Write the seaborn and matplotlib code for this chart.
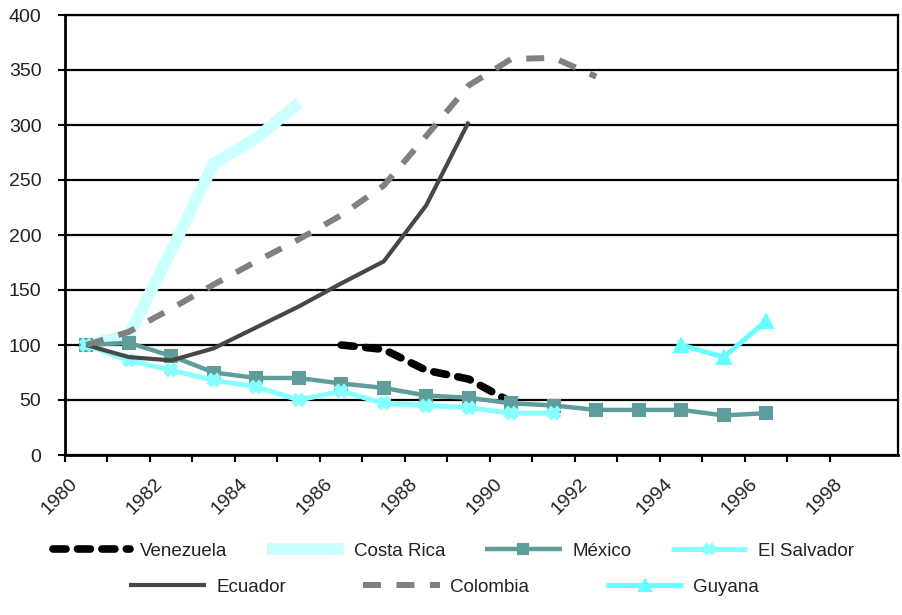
import numpy as np
import pandas as pd
import matplotlib
matplotlib.use("Agg")
import matplotlib.pyplot as plt
import matplotlib.transforms as mtransforms
import seaborn as sns

# ---- data (index values) ----
first_year = 1980
venezuela_start = 1986
venezuela = [100, 96, 77, 69, 48]
costa_rica_start = 1980
costa_rica = [100, 109, 186, 265, 288, 320]
mexico_start = 1980
mexico = [100, 102, 90, 75, 70, 70, 65, 61, 54, 52, 47, 45, 41, 41, 41, 36, 38]
el_salvador_start = 1980
el_salvador = [100, 86, 77, 68, 62, 50, 58, 47, 45, 43, 38, 38]
ecuador_start = 1980
ecuador = [100, 89, 86, 97, 116, 135, 156, 176, 227, 303]
colombia_start = 1980
colombia = [100, 112, 133, 155, 176, 196, 218, 245, 290, 336, 360, 361, 344]
guyana_start = 1994
guyana = [100, 89, 122]

tick_years = list(range(1980, 1999, 2))
y_ticks = list(range(0, 401, 50))

sns.set_style("white")
plt.rcParams['font.family'] = ['Liberation Sans', 'DejaVu Sans']

fig = plt.figure(figsize=(9.03, 6.15), dpi=100)
ax = fig.add_axes([65/903, 1-455/615, (898-65)/903, (455-15)/615])


def frame(start, vals):
    idx = [start - first_year + i for i in range(len(vals))]
    return pd.DataFrame({"x": idx, "y": vals})


series = [
    ("Venezuela", venezuela_start, venezuela, dict(color="black", linewidth=5.5, dash=(1.7, 1.5), cap="round")),
    ("Costa Rica", costa_rica_start, costa_rica, dict(color="#ccffff", linewidth=8.5)),
    ("México", mexico_start, mexico, dict(color="#5f9c9c", linewidth=3.2, marker="s", markersize=9)),
    ("El Salvador", el_salvador_start, el_salvador, dict(color="#88ffff", linewidth=3.6, marker="X", markersize=9)),
    ("Ecuador", ecuador_start, ecuador, dict(color="#474747", linewidth=3.0)),
    ("Colombia", colombia_start, colombia, dict(color="#808080", linewidth=4.3, dash=(3.0, 2.6), cap="butt")),
    ("Guyana", guyana_start, guyana, dict(color="#66ffff", linewidth=3.6, marker="^", markersize=10)),
]

handles = {}
for name, start, vals, st in series:
    df = frame(start, vals)
    kw = dict(color=st["color"], linewidth=st["linewidth"])
    if "marker" in st:
        kw.update(marker=st["marker"], markersize=st["markersize"],
                  markeredgecolor=st["color"], markerfacecolor=st["color"], markeredgewidth=1.5)
    n_before = len(ax.lines)
    sns.lineplot(data=df, x="x", y="y", ax=ax, estimator=None, sort=False, **kw)
    ln = ax.lines[n_before]
    ln.set_solid_joinstyle("round")
    ln.set_solid_capstyle("butt")
    if "dash" in st:
        ln.set_linestyle((0, st["dash"]))
        ln.set_dash_capstyle(st["cap"])
    handles[name] = ln

ax.set_xlim(-0.5, 19.1)
ax.set_ylim(0, 400)
ax.set_xlabel("")
ax.set_ylabel("")

ax.set_yticks(y_ticks)
ax.set_yticklabels([str(v) for v in y_ticks])
ax.yaxis.grid(True, color="black", linewidth=1.6)
ax.xaxis.grid(False)
ax.set_axisbelow(True)

ax.set_xticks([y - first_year for y in tick_years])
ax.set_xticklabels([str(y) for y in tick_years])
ax.set_xticks(np.arange(-0.5, 18.0, 1.0), minor=True)
ax.tick_params(axis="x", which="major", length=0, pad=19, labelsize=14, colors="#222222")
ax.tick_params(axis="x", which="minor", length=5, width=1.5, color="black", direction="out", bottom=True)
ax.tick_params(axis="y", which="major", length=5, width=1.5, color="black", direction="out",
               left=True, pad=12, labelsize=14, labelcolor="#222222")

offset = mtransforms.ScaledTranslation(-11/100, 0, fig.dpi_scale_trans)
for lab in ax.get_xticklabels():
    lab.set_rotation(45)
    lab.set_ha("right")
    lab.set_va("center")
    lab.set_rotation_mode("anchor")
    lab.set_transform(lab.get_transform() + offset)

for side, sp in ax.spines.items():
    sp.set_visible(True)
    sp.set_color("black")
    sp.set_linewidth(1.6)
ax.spines["left"].set_linewidth(2.0)
ax.spines["bottom"].set_linewidth(2.0)

row1 = ["Venezuela", "Costa Rica", "México", "El Salvador"]
row2 = ["Ecuador", "Colombia", "Guyana"]
leg_kw = dict(loc="center", frameon=False, fontsize=13.5, handlelength=4.1,
              handletextpad=0.55, labelcolor="#222222", markerscale=0.8)
fig.legend([handles[n] for n in row1], row1, bbox_to_anchor=(0.502, 0.104), ncol=4,
           columnspacing=2.1, **leg_kw)
fig.legend([handles[n] for n in row2], row2, bbox_to_anchor=(0.492, 0.0455), ncol=3,
           columnspacing=4.1, **leg_kw)

fig.savefig("out.png", dpi=100)
